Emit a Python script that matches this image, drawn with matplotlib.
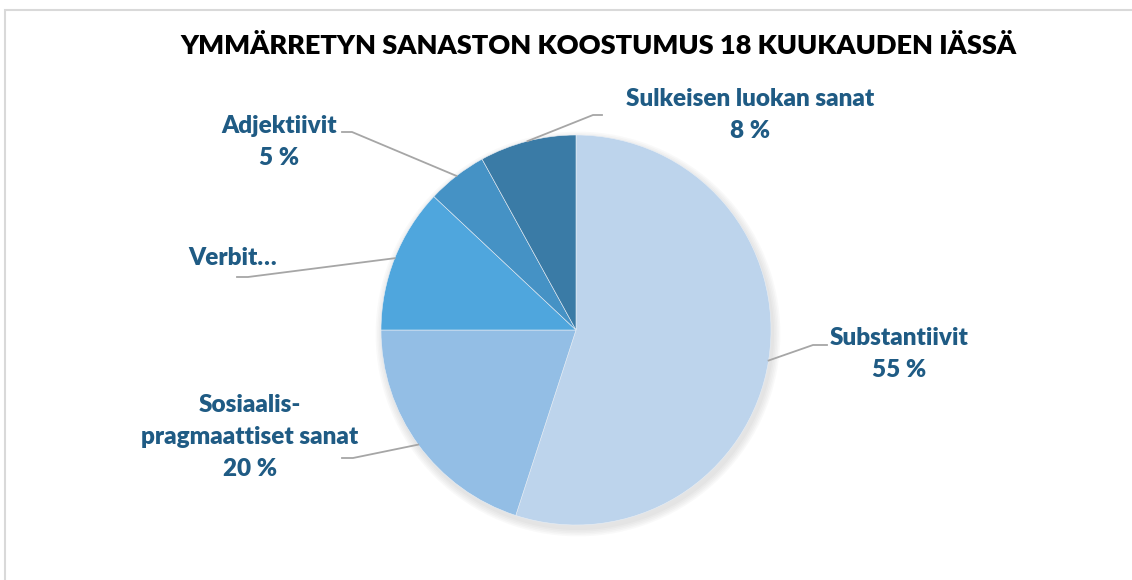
import numpy as np
import matplotlib.pyplot as plt
from matplotlib.patches import Circle, Rectangle

# Data
categories = ['Substantiivit', 'Sosiaalis-\npragmaattiset sanat', 'Verbit…',
              'Adjektiivit', 'Sulkeisen luokan sanat']
shares = [55, 20, 12, 5, 8]
show_pct = [True, True, False, True, True]
colors = ['#BDD4EC', '#93BEE5', '#4FA6DD', '#4592C5', '#3A7BA6']

title = 'YMMÄRRETYN SANASTON KOOSTUMUS 18 KUUKAUDEN IÄSSÄ'

W, H = 1132, 580
fig = plt.figure(figsize=(W / 100, H / 100), dpi=100)
ax = fig.add_axes([0, 0, 1, 1])


def py(y):
    # pixel row -> data y
    return H - y


cx, cy, r = 576, py(330), 195

# chart border
ax.add_patch(Rectangle((5, -10), W + 20, py(10) + 10, fill=False,
                       edgecolor='#D9D9D9', lw=1.5))

# soft shadow under the pie
for i in range(5):
    ax.add_patch(Circle((cx + 2, cy - 4), r + 1 + i * 1.6, color='#808080',
                        alpha=0.045, lw=0, zorder=1))

wedges, _ = ax.pie(shares, colors=colors, startangle=90, counterclock=False,
                   center=(cx, cy), radius=r, frame=True,
                   wedgeprops=dict(lw=0.4, edgecolor='#E8EEF5', zorder=2))
ax.set_xlim(0, W)
ax.set_ylim(0, H)
ax.set_aspect('equal')
ax.axis('off')

# label placement (pixels): text centre x, first line y, elbow, line end
label_pos = [
    (899, 338, (813, 345), (827, 345)),
    (250, 405, (353, 458), (342, 458)),
    (233, 258, (248, 277), (237, 277)),
    (279, 126, (352, 132), (342, 132)),
    (750, 99, (593, 115), (602, 115)),
]
line_step = 32

font = dict(family=['Lato', 'DejaVu Sans'], weight='heavy', color='#1F5B84',
            fontsize=17.5)

for w, cat, val, pct, (tx, ty, elbow, end) in zip(
        wedges, categories, shares, show_pct, label_pos):
    mid = np.deg2rad((w.theta1 + w.theta2) / 2)
    sx, sy = cx + r * np.cos(mid), cy + r * np.sin(mid)
    ax.plot([sx, elbow[0], end[0]], [sy, py(elbow[1]), py(end[1])],
            color='#A6A6A6', lw=1.3, zorder=3)
    lines = cat.split('\n') + ([f'{val} %'] if pct else [])
    for k, line in enumerate(lines):
        ax.text(tx, py(ty + k * line_step), line, ha='center',
                va='center', **font)

ax.text(598, py(46), title, ha='center', va='center',
        family=['Lato', 'DejaVu Sans'], weight='heavy', fontsize=19.5,
        color='black')

fig.savefig('out.png', dpi=100)
